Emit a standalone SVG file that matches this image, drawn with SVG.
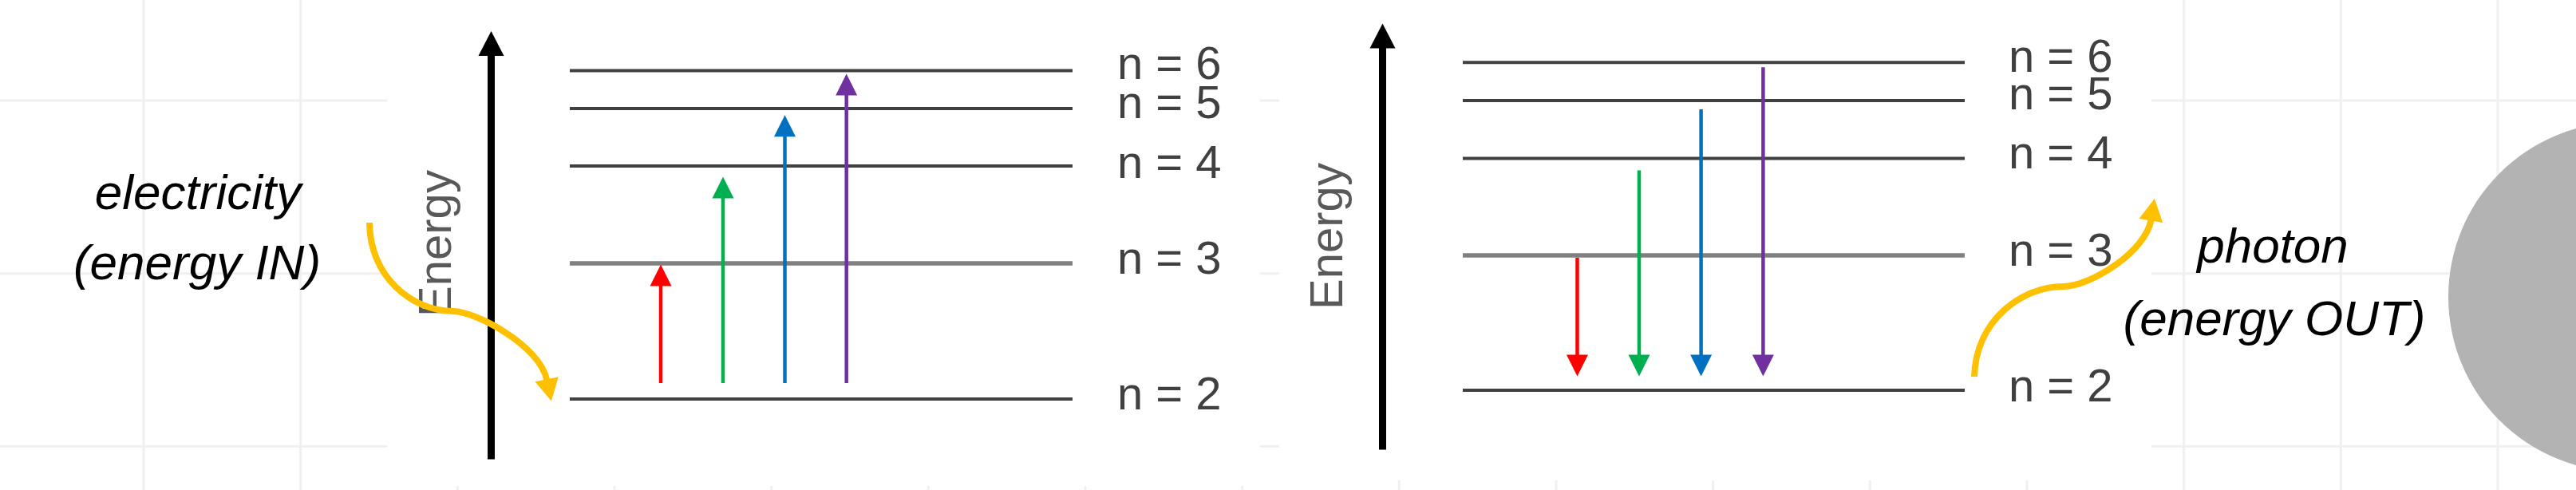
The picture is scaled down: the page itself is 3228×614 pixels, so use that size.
<svg xmlns="http://www.w3.org/2000/svg" width="3228" height="614" viewBox="0 0 3228 614">
<style>
.grid{stroke:#f0f0f0;stroke-width:3;fill:none}
.lvl{stroke:#404040;stroke-width:4;fill:none}
.lvl3{stroke:#808080;stroke-width:5.5;fill:none}
.lbl{font-family:"Liberation Sans",Arial,sans-serif;font-size:58px;fill:#404040}
.axlbl{font-family:"Liberation Sans",Arial,sans-serif;font-size:58px;fill:#595959}
.note{font-family:"Liberation Sans",Arial,sans-serif;font-size:62px;font-style:italic;fill:#000;text-anchor:middle}
.axis{stroke:#000;stroke-width:9;fill:none}
.tr{stroke-width:4.5;fill:none}
.ylw{stroke:#ffc000;stroke-width:8;fill:none}
</style>
<defs>
<marker id="hAxis" markerUnits="userSpaceOnUse" viewBox="0 -17 32 34" markerWidth="32" markerHeight="34" refX="0.5" refY="0" orient="auto" overflow="visible"><path d="M0,-16 L31,0 L0,16 Z" fill="#000"/></marker>
<marker id="hRed" markerUnits="userSpaceOnUse" viewBox="0 -14 28 28" markerWidth="28" markerHeight="28" refX="0.5" refY="0" orient="auto" overflow="visible"><path d="M0,-13.5 L27,0 L0,13.5 Z" fill="#ff0000"/></marker>
<marker id="hGreen" markerUnits="userSpaceOnUse" viewBox="0 -14 28 28" markerWidth="28" markerHeight="28" refX="0.5" refY="0" orient="auto" overflow="visible"><path d="M0,-13.5 L27,0 L0,13.5 Z" fill="#00b050"/></marker>
<marker id="hBlue" markerUnits="userSpaceOnUse" viewBox="0 -14 28 28" markerWidth="28" markerHeight="28" refX="0.5" refY="0" orient="auto" overflow="visible"><path d="M0,-13.5 L27,0 L0,13.5 Z" fill="#0070c0"/></marker>
<marker id="hPurple" markerUnits="userSpaceOnUse" viewBox="0 -14 28 28" markerWidth="28" markerHeight="28" refX="0.5" refY="0" orient="auto" overflow="visible"><path d="M0,-13.5 L27,0 L0,13.5 Z" fill="#7030a0"/></marker>
<marker id="hYellow" markerUnits="userSpaceOnUse" viewBox="0 -16 30 32" markerWidth="30" markerHeight="32" refX="1" refY="0" orient="auto" overflow="visible"><path d="M0,-15 L28,0 L0,15 Z" fill="#ffc000"/></marker>
</defs>
<rect x="0" y="0" width="3228" height="614" fill="#fff"/>
<g id="grid" class="grid">
<path d="M0,126H3228M0,342.7H3228M0,559.3H3228"/>
<path d="M180,0V614M376.7,0V614M573.3,0V614M770,0V614M966.7,0V614M1163.3,0V614M1360,0V614M1556.7,0V614M1753.3,0V614M1950,0V614M2146.7,0V614M2343.3,0V614M2540,0V614M2736.7,0V614M2933.3,0V614M3130,0V614"/>
</g>
<g id="panel-absorb-bg"><rect x="485" y="0" width="1094" height="609" fill="#fff"/></g>
<g id="panel-emit-bg"><rect x="1603" y="0" width="1093" height="602" fill="#fff"/></g>
<g id="absorb-levels">
<g id="a-n6"><line class="lvl" x1="714" y1="88.5" x2="1344" y2="88.5"/><text class="lbl" x="1400" y="99">n = 6</text></g>
<g id="a-n5"><line class="lvl" x1="714" y1="136" x2="1344" y2="136"/><text class="lbl" x="1400" y="148">n = 5</text></g>
<g id="a-n4"><line class="lvl" x1="714" y1="208" x2="1344" y2="208"/><text class="lbl" x="1400" y="223">n = 4</text></g>
<g id="a-n3"><line class="lvl3" x1="714" y1="330" x2="1344" y2="330"/><text class="lbl" x="1400" y="342.6">n = 3</text></g>
<g id="a-n2"><line class="lvl" x1="714" y1="500" x2="1344" y2="500"/><text class="lbl" x="1400" y="513">n = 2</text></g>
<g id="a-energy-label"><text class="axlbl" text-anchor="middle" transform="translate(565,305) rotate(-90)">Energy</text></g>
</g>
<g id="emit-levels">
<g id="e-n6"><line class="lvl" x1="1833" y1="78.3" x2="2462" y2="78.3"/><text class="lbl" x="2517" y="90">n = 6</text></g>
<g id="e-n5"><line class="lvl" x1="1833" y1="126" x2="2462" y2="126"/><text class="lbl" x="2517" y="137">n = 5</text></g>
<g id="e-n4"><line class="lvl" x1="1833" y1="198.5" x2="2462" y2="198.5"/><text class="lbl" x="2517" y="211.4">n = 4</text></g>
<g id="e-n3"><line class="lvl3" x1="1833" y1="320" x2="2462" y2="320"/><text class="lbl" x="2517" y="332.8">n = 3</text></g>
<g id="e-n2"><line class="lvl" x1="1833" y1="489" x2="2462" y2="489"/><text class="lbl" x="2517" y="503">n = 2</text></g>
<g id="e-energy-label"><text class="axlbl" text-anchor="middle" transform="translate(1682,296) rotate(-90)">Energy</text></g>
</g>
<g id="electricity-note"><text class="note" x="248" y="261.5">electricity</text><text class="note" x="247" y="350.4">(energy IN)</text></g>
<g id="photon-note"><text class="note" x="2848" y="329">photon</text><text class="note" x="2850" y="419.7">(energy OUT)</text></g>
<g id="atom"><circle cx="3287" cy="372" r="219" fill="#b3b3b3"/></g>
<g id="connectors">
<line class="axis" x1="615.5" y1="575.5" x2="615.5" y2="69.5" marker-end="url(#hAxis)"/>
<line class="axis" x1="1732.5" y1="563.5" x2="1732.5" y2="60" marker-end="url(#hAxis)"/>
<line class="tr" stroke="#ff0000" x1="828" y1="480" x2="828" y2="358" marker-end="url(#hRed)"/>
<line class="tr" stroke="#00b050" x1="906" y1="480" x2="906" y2="248" marker-end="url(#hGreen)"/>
<line class="tr" stroke="#0070c0" x1="983.5" y1="480" x2="983.5" y2="170.7" marker-end="url(#hBlue)"/>
<line class="tr" stroke="#7030a0" x1="1060.7" y1="480" x2="1060.7" y2="119" marker-end="url(#hPurple)"/>
<line class="tr" stroke="#ff0000" x1="1976.5" y1="323" x2="1976.5" y2="445" marker-end="url(#hRed)"/>
<line class="tr" stroke="#00b050" x1="2054" y1="213.4" x2="2054" y2="445" marker-end="url(#hGreen)"/>
<line class="tr" stroke="#0070c0" x1="2131.6" y1="137" x2="2131.6" y2="445" marker-end="url(#hBlue)"/>
<line class="tr" stroke="#7030a0" x1="2209.4" y1="84.2" x2="2209.4" y2="445" marker-end="url(#hPurple)"/>
<path class="ylw" d="M463,279 C463,345 515,390 568,390 C595,390 676,432 685.3,476.2" marker-end="url(#hYellow)"/>
<path class="ylw" d="M2474,472 C2476,400 2535,359 2585,359 C2620,359 2689,315 2695.5,275.5" marker-end="url(#hYellow)"/>
</g>
</svg>
